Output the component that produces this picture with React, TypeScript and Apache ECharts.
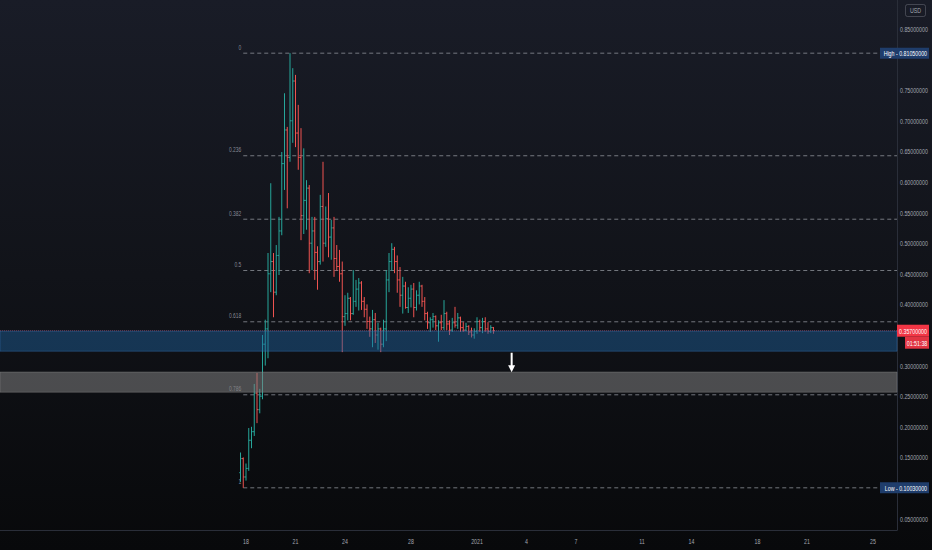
import React, { useEffect, useRef } from 'react';
import * as echarts from 'echarts';

// ---- data: 4-hour OHLC bars, day 0 = Dec 18 00:00 ----
const barStartDay = -1 / 3;
const barStepDays = 1 / 6;
const opens = [
  0.125, 0.148, 0.118, 0.132, 0.178, 0.192, 0.255, 0.228, 0.250, 0.335,
  0.360, 0.450, 0.470, 0.420, 0.480, 0.520, 0.630, 0.685, 0.640, 0.700,
  0.765, 0.680, 0.640, 0.545, 0.570, 0.590, 0.500, 0.520, 0.485, 0.470,
  0.560, 0.500, 0.540, 0.510, 0.525, 0.475, 0.462, 0.450, 0.380, 0.385,
  0.410, 0.385, 0.405, 0.425, 0.435, 0.405, 0.392, 0.372, 0.360, 0.375,
  0.350, 0.360, 0.335, 0.360, 0.440, 0.470, 0.490, 0.470, 0.440, 0.415,
  0.430, 0.395, 0.410, 0.425, 0.395, 0.415, 0.430, 0.405, 0.385, 0.370,
  0.375, 0.380, 0.365, 0.370, 0.362, 0.385, 0.368, 0.358, 0.370, 0.366,
  0.378, 0.362, 0.358, 0.364, 0.355, 0.350, 0.356, 0.372, 0.362, 0.372,
  0.360, 0.356, 0.362,
];
const highs = [
  0.158, 0.150, 0.140, 0.198, 0.200, 0.270, 0.288, 0.262, 0.350, 0.375,
  0.484, 0.598, 0.484, 0.497, 0.543, 0.649, 0.745, 0.690, 0.8105, 0.786,
  0.775, 0.726, 0.688, 0.655, 0.603, 0.595, 0.543, 0.543, 0.495, 0.579,
  0.633, 0.560, 0.582, 0.538, 0.543, 0.497, 0.489, 0.470, 0.415, 0.419,
  0.412, 0.456, 0.440, 0.443, 0.438, 0.412, 0.400, 0.380, 0.391, 0.386,
  0.370, 0.362, 0.375, 0.456, 0.484, 0.500, 0.494, 0.480, 0.461, 0.445,
  0.437, 0.428, 0.432, 0.435, 0.423, 0.437, 0.432, 0.412, 0.388, 0.379,
  0.386, 0.382, 0.374, 0.383, 0.407, 0.388, 0.374, 0.378, 0.396, 0.386,
  0.380, 0.371, 0.370, 0.366, 0.362, 0.361, 0.379, 0.375, 0.378, 0.379,
  0.371, 0.366, 0.363,
];
const lows = [
  0.110, 0.1003, 0.112, 0.128, 0.165, 0.185, 0.206, 0.222, 0.245, 0.300,
  0.312, 0.420, 0.379, 0.415, 0.448, 0.513, 0.587, 0.557, 0.633, 0.664,
  0.657, 0.620, 0.505, 0.515, 0.522, 0.451, 0.456, 0.440, 0.424, 0.465,
  0.470, 0.494, 0.477, 0.473, 0.445, 0.455, 0.437, 0.322, 0.365, 0.374,
  0.374, 0.383, 0.396, 0.390, 0.391, 0.379, 0.360, 0.347, 0.330, 0.337,
  0.326, 0.322, 0.330, 0.340, 0.420, 0.455, 0.451, 0.419, 0.396, 0.385,
  0.393, 0.386, 0.395, 0.379, 0.390, 0.400, 0.396, 0.374, 0.360, 0.355,
  0.362, 0.358, 0.339, 0.358, 0.358, 0.358, 0.350, 0.355, 0.362, 0.360,
  0.355, 0.355, 0.356, 0.350, 0.346, 0.344, 0.352, 0.355, 0.353, 0.355,
  0.352, 0.353, 0.352,
];
const closes = [
  0.148, 0.118, 0.132, 0.178, 0.192, 0.255, 0.228, 0.250, 0.335, 0.360,
  0.450, 0.470, 0.420, 0.480, 0.520, 0.630, 0.685, 0.640, 0.700, 0.765,
  0.680, 0.640, 0.545, 0.570, 0.590, 0.500, 0.520, 0.485, 0.470, 0.560,
  0.500, 0.540, 0.510, 0.525, 0.475, 0.462, 0.450, 0.380, 0.385, 0.410,
  0.385, 0.405, 0.425, 0.435, 0.405, 0.392, 0.372, 0.360, 0.375, 0.350,
  0.360, 0.335, 0.360, 0.440, 0.470, 0.490, 0.470, 0.440, 0.415, 0.430,
  0.395, 0.410, 0.425, 0.395, 0.415, 0.430, 0.405, 0.385, 0.370, 0.375,
  0.380, 0.365, 0.370, 0.362, 0.385, 0.368, 0.358, 0.370, 0.366, 0.378,
  0.362, 0.358, 0.364, 0.355, 0.350, 0.356, 0.372, 0.362, 0.372, 0.360,
  0.356, 0.362, 0.357,
];

const xTickDays = [0, 3, 6, 10, 14, 17, 20, 24, 27, 31, 34, 38];
const xTickLabels = ['18', '21', '24', '28', '2021', '4', '7', '11', '14', '18', '21', '25'];
const yTickValues = [0.05, 0.15, 0.2, 0.25, 0.3, 0.4, 0.45, 0.5, 0.55, 0.6, 0.65, 0.7, 0.75, 0.85];
const fibRatios = [0, 0.236, 0.382, 0.5, 0.618, 0.786, 1];
const fibLabels = ['0', '0.236', '0.382', '0.5', '0.618', '0.786', '1'];
const zoneBlue = [0.3565, 0.3235];
const zoneGrey = [0.2895, 0.2565];
const arrowDay = 16.1;
const arrowFrom = 0.321;
const arrowTo = 0.289;
const countdown = '01:51:38';
const currency = 'USD';

const xExtent = [-14.91, 39.455];
const yExtent = [0.03137, 0.89739];

const FONT = '"Liberation Sans", Arial, sans-serif';
const SQUEEZE = 0.66;
const UP = '#26a69a';
const DOWN = '#ef5350';
const AXIS_TEXT = '#a3a6af';

export default function App() {
  const ref = useRef<HTMLDivElement>(null);
  useEffect(() => {
    document.body.style.margin = '0';
    const chart = echarts.init(ref.current!, null, { renderer: 'svg' });

    const bars = opens.map((o, i) => [barStartDay + i * barStepDays, o, highs[i], lows[i], closes[i]]);
    const hi = Math.max(...highs);
    const lo = Math.min(...lows);
    const loDay = barStartDay + lows.indexOf(lo) * barStepDays;
    const last = closes[closes.length - 1];
    const fibData = fibRatios.map((r) => [loDay, hi - r * (hi - lo)]);

    const txt = (x: number, y: number, text: string, fill: string, size: number, align: string, vAlign = 'middle') => ({
      type: 'text',
      x,
      y,
      scaleX: SQUEEZE,
      style: { text, fill, fontSize: size, fontFamily: FONT, align, verticalAlign: vAlign },
    });

    const option: any = {
      animation: false,
      backgroundColor: 'transparent',
      grid: { left: 0, right: 35, top: 0, bottom: 20, containLabel: false, outerBoundsMode: 'none' },
      tooltip: { show: false },
      xAxis: {
        type: 'value',
        min: xExtent[0],
        max: xExtent[1],
        axisLine: { show: true, onZero: false, lineStyle: { color: '#2a2e39' } },
        axisTick: { show: false },
        splitLine: { show: false },
        axisLabel: { show: false },
      },
      yAxis: {
        type: 'value',
        position: 'right',
        min: yExtent[0],
        max: yExtent[1],
        axisLine: { show: true, onZero: false, lineStyle: { color: '#2a2e39' } },
        axisTick: { show: false },
        splitLine: { show: false },
        axisLabel: { show: false },
      },
      series: [
        {
          type: 'custom',
          name: 'yTickLabels',
          z: 1,
          data: yTickValues.map((v) => [v]),
          encode: { y: 0 },
          renderItem: (params: any, api: any) => {
            const cs = params.coordSys;
            const v = api.value(0);
            const py = api.coord([xExtent[0], v])[1];
            return txt(cs.x + cs.width + 3, py, v.toFixed(8), AXIS_TEXT, 8, 'left');
          },
        },
        {
          type: 'custom',
          name: 'xTickLabels',
          z: 1,
          data: xTickDays.map((d, i) => [d, i]),
          encode: { x: 0 },
          renderItem: (params: any, api: any) => {
            const cs = params.coordSys;
            const px = api.coord([api.value(0), yExtent[0]])[0];
            return txt(px, cs.y + cs.height + 11, xTickLabels[api.value(1)], AXIS_TEXT, 8, 'center');
          },
        },
        {
          type: 'custom',
          name: 'fib',
          z: 2,
          data: fibData,
          encode: { x: 0, y: 1 },
          renderItem: (params: any, api: any) => {
            const p = api.coord([api.value(0), api.value(1)]);
            const xEnd = params.coordSys.x + params.coordSys.width;
            return {
              type: 'group',
              children: [
                {
                  type: 'line',
                  shape: { x1: p[0], y1: p[1], x2: xEnd, y2: p[1] },
                  style: { stroke: 'rgba(150,153,162,0.75)', lineWidth: 1, lineDash: [4, 3] },
                },
                txt(p[0] - 2, p[1] - 2.5, fibLabels[params.dataIndex], 'rgba(150,153,162,0.9)', 7.5, 'right', 'bottom'),
              ],
            };
          },
        },
        {
          type: 'custom',
          name: 'ohlc',
          z: 2,
          data: bars,
          encode: { x: 0, y: [1, 2, 3, 4] },
          renderItem: (params: any, api: any) => {
            const d = api.value(0);
            const o = api.value(1);
            const h = api.value(2);
            const l = api.value(3);
            const c = api.value(4);
            const pH = api.coord([d, h]);
            const pL = api.coord([d, l]);
            const pO = api.coord([d, o]);
            const pC = api.coord([d, c]);
            const x = pH[0];
            const color = c >= o ? UP : DOWN;
            const w = 1.3;
            return {
              type: 'group',
              children: [
                { type: 'line', shape: { x1: x, y1: pH[1], x2: x, y2: pL[1] }, style: { stroke: color, lineWidth: 1 } },
                { type: 'line', shape: { x1: x - w, y1: pO[1], x2: x, y2: pO[1] }, style: { stroke: color, lineWidth: 1 } },
                { type: 'line', shape: { x1: x, y1: pC[1], x2: x + w, y2: pC[1] }, style: { stroke: color, lineWidth: 1 } },
              ],
            };
          },
        },
        {
          type: 'custom',
          name: 'zones',
          z: 3,
          data: [
            [zoneBlue[0], zoneBlue[1], 0],
            [zoneGrey[0], zoneGrey[1], 1],
          ],
          encode: { y: [0, 1] },
          renderItem: (params: any, api: any) => {
            const cs = params.coordSys;
            const top = api.coord([xExtent[0], api.value(0)])[1];
            const bot = api.coord([xExtent[0], api.value(1)])[1];
            const blue = api.value(2) === 0;
            return {
              type: 'rect',
              shape: { x: cs.x, y: top, width: cs.width, height: bot - top },
              style: {
                fill: blue ? 'rgba(30,100,160,0.45)' : 'rgba(128,128,128,0.55)',
                stroke: blue ? 'rgba(60,130,200,0.35)' : 'rgba(150,150,150,0.35)',
                lineWidth: 1,
              },
            };
          },
        },
        {
          type: 'custom',
          name: 'annotations',
          z: 4,
          data: [[arrowDay, arrowFrom, arrowTo]],
          encode: { x: 0, y: [1, 2] },
          renderItem: (params: any, api: any) => {
            const p1 = api.coord([api.value(0), api.value(1)]);
            const p2 = api.coord([api.value(0), api.value(2)]);
            return {
              type: 'group',
              children: [
                {
                  type: 'line',
                  shape: { x1: p1[0], y1: p1[1], x2: p2[0], y2: p2[1] - 5 },
                  style: { stroke: '#ffffff', lineWidth: 2 },
                },
                {
                  type: 'polygon',
                  shape: { points: [[p2[0] - 3.5, p2[1] - 7], [p2[0] + 3.5, p2[1] - 7], [p2[0], p2[1]]] },
                  style: { fill: '#ffffff' },
                },
              ],
            };
          },
        },
        {
          type: 'custom',
          name: 'priceLabels',
          z: 5,
          data: [
            [hi, 0],
            [lo, 1],
            [last, 2],
          ],
          encode: { y: 0 },
          renderItem: (params: any, api: any) => {
            const cs = params.coordSys;
            const xR = cs.x + cs.width;
            const v = api.value(0);
            const kind = api.value(1);
            const py = api.coord([xExtent[0], v])[1];
            if (kind === 2) {
              return {
                type: 'group',
                children: [
                  {
                    type: 'line',
                    shape: { x1: cs.x, y1: py, x2: xR, y2: py },
                    style: { stroke: 'rgba(210,90,130,0.45)', lineWidth: 1, lineDash: [1, 1] },
                  },
                  { type: 'rect', shape: { x: xR, y: py - 6, width: 32, height: 12 }, style: { fill: '#f23645' } },
                  txt(xR + 16, py, v.toFixed(8), '#ffffff', 8, 'center'),
                  { type: 'rect', shape: { x: xR + 8, y: py + 6, width: 24, height: 12 }, style: { fill: '#e23442' } },
                  txt(xR + 20, py + 12, countdown, '#ffffff', 8, 'center'),
                ],
              };
            }
            const label = (kind === 0 ? 'High' : 'Low') + ' - ' + v.toFixed(8);
            return {
              type: 'group',
              children: [
                { type: 'rect', shape: { x: xR - 17, y: py - 5.5, width: 49, height: 11 }, style: { fill: '#1f3d6b' } },
                txt(xR + 30, py, label, '#ffffff', 8, 'right'),
              ],
            };
          },
        },
      ],
      graphic: [
        {
          type: 'group',
          right: 6,
          top: 4,
          children: [
            { type: 'rect', shape: { x: 0, y: 0, width: 20, height: 12, r: 2 }, style: { fill: 'transparent', stroke: 'rgba(120,123,134,0.45)', lineWidth: 1 } },
            { type: 'text', x: 10, y: 6, scaleX: SQUEEZE, style: { text: currency, fill: AXIS_TEXT, fontSize: 8, fontFamily: FONT, align: 'center', verticalAlign: 'middle' } },
          ],
        },
      ],
    };
    chart.setOption(option);
    return () => chart.dispose();
  }, []);
  return (
    <div
      ref={ref}
      style={{
        width: 932,
        height: 550,
        background: 'linear-gradient(180deg, #191c27 0%, #111319 50%, #08090b 100%)',
      }}
    />
  );
}
